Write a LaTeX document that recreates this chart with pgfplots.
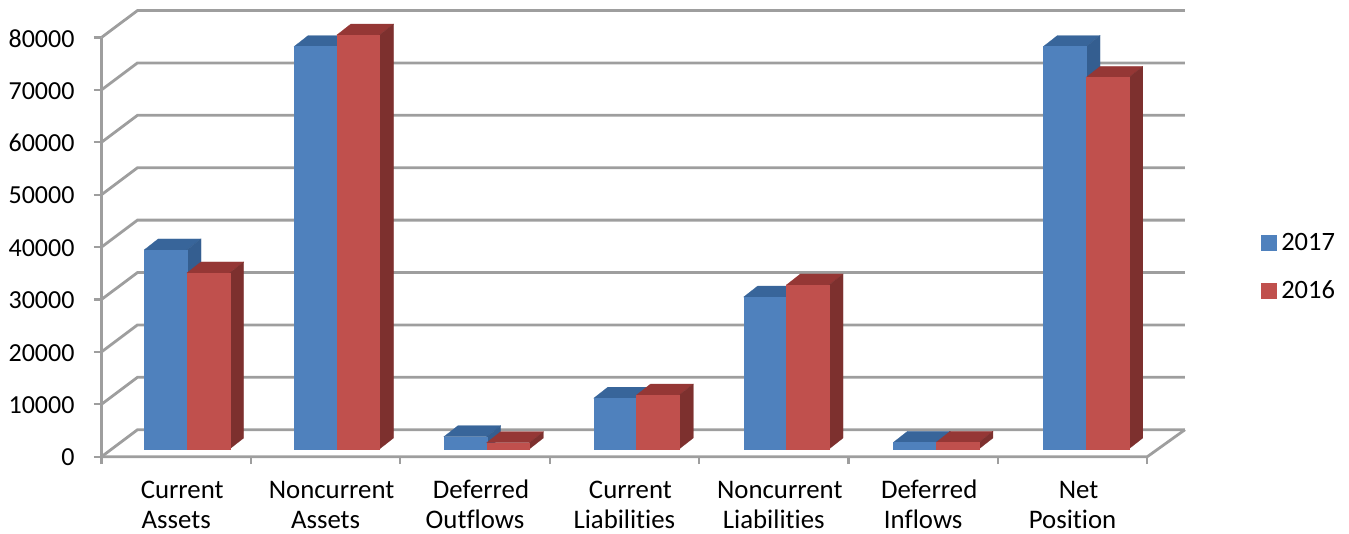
\documentclass[border=0pt]{standalone}
\usepackage{fontspec}
\setmainfont[Ligatures=NoCommon]{Carlito}
\usepackage{pgfplots}
\pgfplotsset{compat=1.18}

\definecolor{gridgray}{HTML}{9E9E9E}
\definecolor{bluefront}{HTML}{4F81BD}
\definecolor{bluetop}{HTML}{38659A}
\definecolor{blueside}{HTML}{345E90}
\definecolor{redfront}{HTML}{C0504D}
\definecolor{redtop}{HTML}{953735}
\definecolor{redside}{HTML}{7D302E}

% category, series (0/1), value, front, top, side
\newcommand{\threedbar}[6]{%
  \pgfmathsetmacro\xa{#1*1.003+0.572+(#2-1)*0.286}%
  \pgfmathsetmacro\xb{\xa+0.286}%
  \pgfmathsetmacro\xc{\xa+0.094}%
  \pgfmathsetmacro\xd{\xb+0.094}%
  \edef\ya{1470}%
  \edef\yb{\the\numexpr1470+#3\relax}%
  \edef\yc{\the\numexpr1470+#3+2100\relax}%
  \edef\ye{\the\numexpr1470+2100\relax}%
  \edef\temp{%
    \noexpand\addplot[forget plot,fill=#5,draw=#5,line width=.2pt] coordinates {(\xa,\yb) (\xc,\yc) (\xd,\yc) (\xb,\yb)} --cycle;
    \noexpand\addplot[forget plot,fill=#6,draw=#6,line width=.2pt] coordinates {(\xb,\ya) (\xd,\ye) (\xd,\yc) (\xb,\yb)} --cycle;
    \noexpand\addplot[forget plot,fill=#4,draw=#4,line width=.2pt] coordinates {(\xa,\ya) (\xb,\ya) (\xb,\yb) (\xa,\yb)} --cycle;
  }\temp
}
\newcommand{\wallline}[1]{%
  \edef\temp{\noexpand\addplot[forget plot,gridgray,line width=2.8pt] coordinates {(0,#1) (0.241,\the\numexpr#1+5150\relax) (7.252,\the\numexpr#1+5150\relax)};}\temp
}
% first line of a tick label sits 6 px right of the second
\newcommand{\firstline}[1]{\strut\hspace*{12pt}#1}

\begin{document}
\begin{tikzpicture}
\path[use as bounding box] (-101.5pt,-77.3pt) rectangle (1247.5pt,456.7pt);
\begin{axis}[
    at={(0pt,0pt)}, anchor=south west,
    scale only axis,
    width=1083.5pt, height=446.7pt,
    xmin=0, xmax=7.252, ymin=0, ymax=85248,
    clip=false,
    axis x line*=bottom, axis y line*=left,
    axis line style={draw=none},
    tick align=outside,
    major tick length=7.5pt,
    tick style={gridgray,line width=2.2pt},
    xtick={0,...,7},
    x tick label as interval,
    xticklabels={\firstline{Current}\\Assets,\firstline{Noncurrent}\\Assets,\firstline{Deferred}\\Outflows,\firstline{Current}\\Liabilities,\firstline{Noncurrent}\\Liabilities,\firstline{Deferred}\\Inflows,\firstline{Net}\\Position},
    x tick label style={align=center,font=\fontsize{26.8}{30.5}\selectfont,yshift=-9pt},
    ytick={0,10000,...,80000},
    scaled y ticks=false,
    y tick label style={font=\fontsize{26}{32}\selectfont,xshift=-16pt,yshift=-0.8pt,/pgf/number format/.cd,1000 sep={},assume math mode=true},
    legend style={draw=none,fill=none,inner sep=0pt,outer sep=0pt,
        at={(axis description cs:1.0701,0.4258)},anchor=west,
        font=\fontsize{26.5}{32}\selectfont,
        row sep=25pt,
        cells={anchor=west}},
    legend image code/.code={\fill[#1] (0pt,-7.5pt) rectangle (15pt,7.5pt); \path (18pt,0pt);},
]
% floor, left edge
\addplot[forget plot,gridgray,line width=2.8pt] coordinates {(0,80000) (0,0) (7,0) (7.252,5150)};
\wallline{0}\wallline{10000}\wallline{20000}\wallline{30000}\wallline{40000}
\wallline{50000}\wallline{60000}\wallline{70000}\wallline{80000}

\threedbar{0}{0}{38000}{bluefront}{bluetop}{blueside}
\threedbar{0}{1}{33600}{redfront}{redtop}{redside}
\threedbar{1}{0}{76800}{bluefront}{bluetop}{blueside}
\threedbar{1}{1}{79000}{redfront}{redtop}{redside}
\threedbar{2}{0}{2350}{bluefront}{bluetop}{blueside}
\threedbar{2}{1}{1200}{redfront}{redtop}{redside}
\threedbar{3}{0}{9700}{bluefront}{bluetop}{blueside}
\threedbar{3}{1}{10300}{redfront}{redtop}{redside}
\threedbar{4}{0}{29000}{bluefront}{bluetop}{blueside}
\threedbar{4}{1}{31300}{redfront}{redtop}{redside}
\threedbar{5}{0}{1280}{bluefront}{bluetop}{blueside}
\threedbar{5}{1}{1280}{redfront}{redtop}{redside}
\threedbar{6}{0}{76800}{bluefront}{bluetop}{blueside}
\threedbar{6}{1}{70900}{redfront}{redtop}{redside}

\addlegendimage{bluefront}
\addlegendentry{2017}
\addlegendimage{redfront}
\addlegendentry{2016}
\end{axis}
\end{tikzpicture}
\end{document}
